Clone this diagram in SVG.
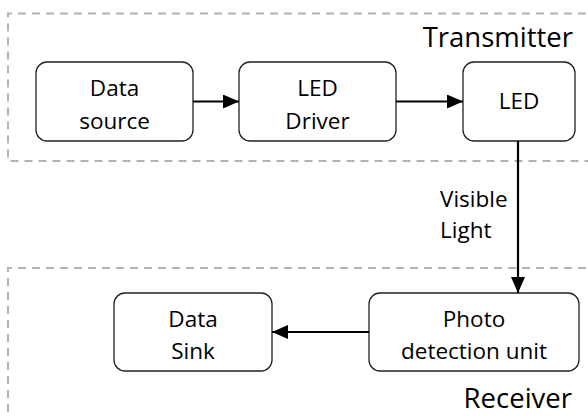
<svg xmlns="http://www.w3.org/2000/svg" width="588" height="416" viewBox="0 0 588 416">
<defs>
<style>
.grp{fill:none;stroke:#b3b3b3;stroke-width:2;stroke-dasharray:8 6}
.node{fill:#fff;stroke:#222;stroke-width:1.3}
.t{font-family:"Open Sans","Noto Sans",sans-serif;font-size:22.5px;fill:#000;text-anchor:middle}
.big{font-family:"Open Sans","Noto Sans",sans-serif;font-size:27.5px;fill:#000;text-anchor:end}
.lbl{font-family:"Open Sans","Noto Sans",sans-serif;font-size:22.5px;fill:#000}
.edge{fill:none;stroke:#000;stroke-width:2.2}
</style>
<marker id="ah" viewBox="0 0 16 14" refX="16" refY="7" markerWidth="16" markerHeight="14" markerUnits="userSpaceOnUse" orient="auto">
<path d="M0,0 L16,7 L0,14 Z" fill="#000"/>
</marker>
</defs>
<g id="transmitter">
<path class="grp" d="M600,13.5 H8 V161 H600"/>
<text class="big" x="573" y="47">Transmitter</text>
</g>
<g id="receiver">
<path class="grp" d="M600,268 H8 V430"/>
<text class="big" x="572" y="408">Receiver</text>
</g>
<g id="data-source">
<rect class="node" x="36" y="62" width="157" height="79" rx="11"/>
<text class="t" x="114.5" y="96">Data</text>
<text class="t" x="114.5" y="128.5">source</text>
</g>
<g id="led-driver">
<rect class="node" x="239" y="62" width="157" height="79" rx="11"/>
<text class="t" x="317.5" y="96">LED</text>
<text class="t" x="317.5" y="128.5">Driver</text>
</g>
<g id="led">
<rect class="node" x="463" y="62" width="112" height="79" rx="11"/>
<text class="t" x="519" y="109">LED</text>
</g>
<g id="photo-detection">
<rect class="node" x="369" y="293" width="210" height="78" rx="11"/>
<text class="t" x="474" y="326.5">Photo</text>
<text class="t" x="474" y="359">detection unit</text>
</g>
<g id="data-sink">
<rect class="node" x="114" y="293" width="158" height="78" rx="11"/>
<text class="t" x="193" y="326.5">Data</text>
<text class="t" x="193" y="359">Sink</text>
</g>
<g id="connectors">
<line class="edge" x1="193" y1="101.5" x2="239" y2="101.5" marker-end="url(#ah)"/>
<line class="edge" x1="396" y1="101.5" x2="463" y2="101.5" marker-end="url(#ah)"/>
<line class="edge" x1="518" y1="141" x2="518" y2="293" marker-end="url(#ah)"/>
<line class="edge" x1="369" y1="332" x2="272" y2="332" marker-end="url(#ah)"/>
<text class="lbl" x="440" y="207">Visible</text>
<text class="lbl" x="440" y="238">Light</text>
</g>
</svg>
